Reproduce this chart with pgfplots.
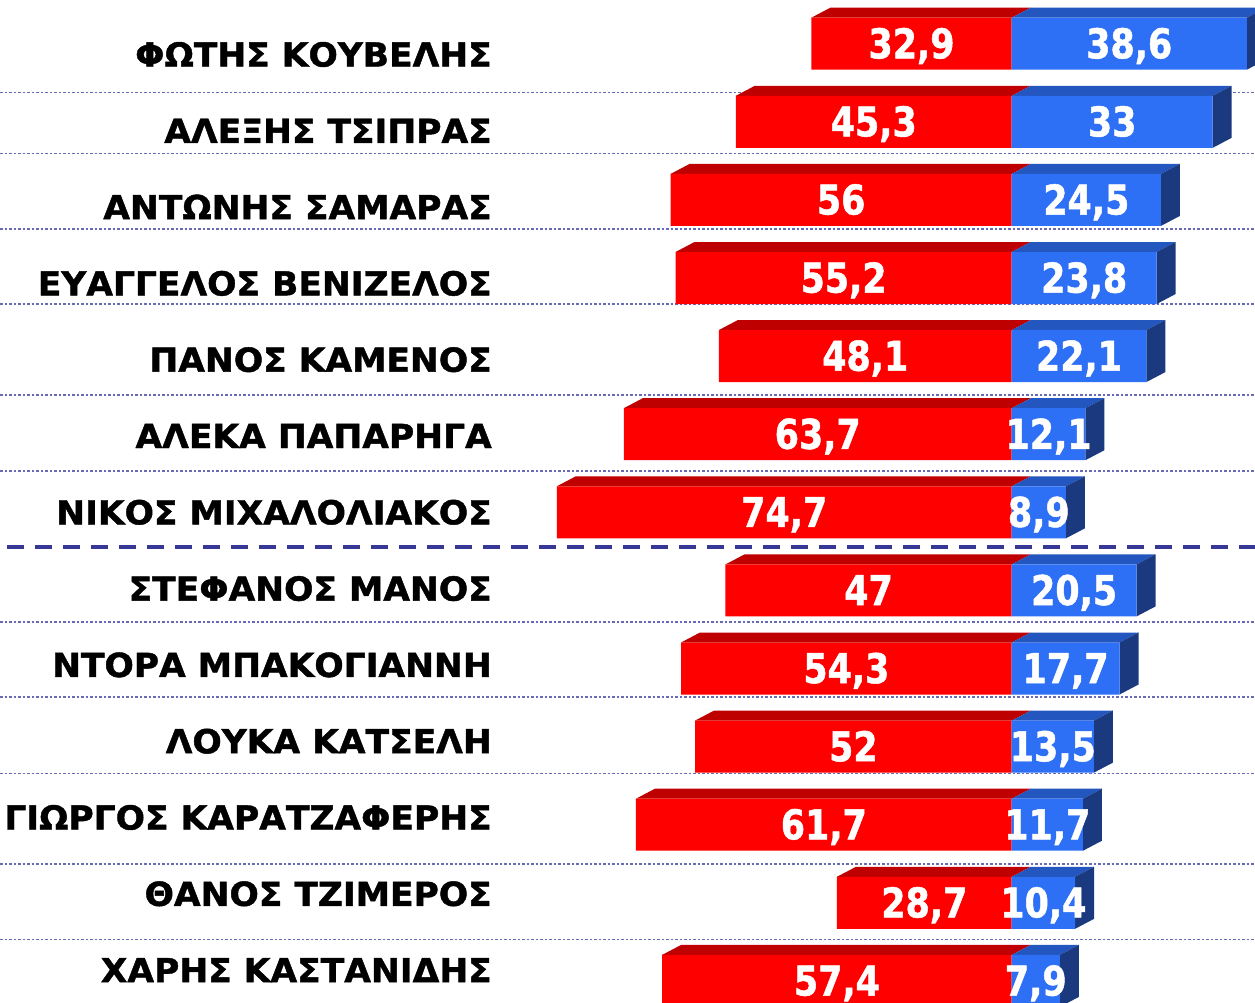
\documentclass[border=0pt]{standalone}
\usepackage{fontspec}
\usepackage{pgfplots}
\usepackage{pgfplotstable}
\pgfplotsset{compat=1.18}
\newfontfamily\nfont[FakeStretch=1.045,FakeBold=1.3]{DejaVu Sans}
\newfontfamily\vfont[FakeStretch=0.85,FakeBold=1.2]{DejaVu Sans}
\definecolor{redfront}{HTML}{FF0000}
\definecolor{redtop}{HTML}{BE0000}
\definecolor{bluefront}{HTML}{2D6FF5}
\definecolor{bluetop}{HTML}{2356BE}
\definecolor{blueside}{HTML}{1A397E}
\definecolor{gridc}{RGB}{105,105,185}
\definecolor{dashc}{RGB}{55,55,150}

\pgfplotstableread[col sep=semicolon]{
name;red;blue;rl;bl
ΦΩΤΗΣ ΚΟΥΒΕΛΗΣ;32.9;38.6;32,9;38,6
ΑΛΕΞΗΣ ΤΣΙΠΡΑΣ;45.3;33;45,3;33
ΑΝΤΩΝΗΣ ΣΑΜΑΡΑΣ;56;24.5;56;24,5
ΕΥΑΓΓΕΛΟΣ ΒΕΝΙΖΕΛΟΣ;55.2;23.8;55,2;23,8
ΠΑΝΟΣ ΚΑΜΕΝΟΣ;48.1;22.1;48,1;22,1
ΑΛΕΚΑ ΠΑΠΑΡΗΓΑ;63.7;12.1;63,7;12,1
ΝΙΚΟΣ ΜΙΧΑΛΟΛΙΑΚΟΣ;74.7;8.9;74,7;8,9
ΣΤΕΦΑΝΟΣ ΜΑΝΟΣ;47;20.5;47;20,5
ΝΤΟΡΑ ΜΠΑΚΟΓΙΑΝΝΗ;54.3;17.7;54,3;17,7
ΛΟΥΚΑ ΚΑΤΣΕΛΗ;52;13.5;52;13,5
ΓΙΩΡΓΟΣ ΚΑΡΑΤΖΑΦΕΡΗΣ;61.7;11.7;61,7;11,7
ΘΑΝΟΣ ΤΖΙΜΕΡΟΣ;28.7;10.4;28,7;10,4
ΧΑΡΗΣ ΚΑΣΤΑΝΙΔΗΣ;57.4;7.9;57,4;7,9
}\data

\def\dx{3.12}
\def\dy{0.128}
\def\hh{0.333}

\begin{document}
\begin{tikzpicture}
\begin{axis}[
  scale only axis,
  width=1255pt, height=1002pt,
  xmin=-166.12, xmax=39.95,
  ymin=-0.5595, ymax=12.27,
  y dir=reverse,
  axis line style={draw=none},
  major tick length=0pt,
  xtick=\empty,
  ytick={0.625,1.403,2.373,3.333,4.498,5.471,7.404,8.364,9.342,10.503,11.470},
  yticklabels={},
  ymajorgrids,
  grid style={gridc, line width=1.4pt, dash pattern=on 2.5pt off 2pt},
  extra y ticks={6.438},
  extra y tick labels={},
  extra y tick style={grid style={dashc, line width=4pt, dash pattern=on 17pt off 11pt, dash phase=21pt}},
  clip=true,
]
% 3D faces
\pgfplotsinvokeforeach{0,...,12}{%
  \pgfplotstablegetelem{#1}{red}\of\data \let\rv\pgfplotsretval
  \pgfplotstablegetelem{#1}{blue}\of\data \let\bv\pgfplotsretval
  \pgfmathsetmacro\yt{#1-\hh}%
  \pgfmathsetmacro\yb{#1+\hh}%
  \pgfmathsetmacro\ybk{#1-\hh-\dy}%
  \pgfmathsetmacro\ybb{#1+\hh-\dy}%
  \pgfmathsetmacro\xl{-\rv}%
  \pgfmathsetmacro\xlb{-\rv+\dx}%
  \pgfmathsetmacro\xr{\bv+\dx}%
  \edef\cmd{%
    \noexpand\fill[redtop] (axis cs:\xl,\yt) -- (axis cs:0,\yt) -- (axis cs:\dx,\ybk) -- (axis cs:\xlb,\ybk) -- cycle;
    \noexpand\fill[bluetop] (axis cs:0,\yt) -- (axis cs:\bv,\yt) -- (axis cs:\xr,\ybk) -- (axis cs:\dx,\ybk) -- cycle;
    \noexpand\fill[blueside] (axis cs:\bv,\yt) -- (axis cs:\bv,\yb) -- (axis cs:\xr,\ybb) -- (axis cs:\xr,\ybk) -- cycle;
  }\cmd
}
% front faces
\addplot[xbar, bar width=52pt, bar shift=0pt, fill=redfront, draw=none]
  table[x expr=-\thisrow{red}, y expr=\coordindex] {\data};
\addplot[xbar, bar width=52pt, bar shift=0pt, fill=bluefront, draw=none]
  table[x=blue, y expr=\coordindex] {\data};
% labels
\pgfplotsinvokeforeach{0,...,12}{%
  \pgfplotstablegetelem{#1}{red}\of\data \let\rv\pgfplotsretval
  \pgfplotstablegetelem{#1}{blue}\of\data \let\bv\pgfplotsretval
  \pgfplotstablegetelem{#1}{rl}\of\data \let\rlab\pgfplotsretval
  \pgfplotstablegetelem{#1}{bl}\of\data \let\blab\pgfplotsretval
  \pgfplotstablegetelem{#1}{name}\of\data \let\nm\pgfplotsretval
  \pgfmathsetmacro\rc{-\rv/2}%
  \pgfmathsetmacro\bc{\bv/2}%
  \pgfmathsetmacro\vy{#1+0.187}%
  \pgfmathsetmacro\ly{(22.8+76.3*#1)/78.1}%
  \edef\cmd{%
    \noexpand\node[text=white, anchor=base, inner sep=0pt, font=\noexpand\vfont\noexpand\bfseries\noexpand\fontsize{41}{41}\noexpand\selectfont] at (axis cs:\rc,\vy) {\rlab};
    \noexpand\node[text=white, anchor=base, inner sep=0pt, font=\noexpand\vfont\noexpand\bfseries\noexpand\fontsize{41}{41}\noexpand\selectfont] at (axis cs:\bc,\vy) {\blab};
    \noexpand\node[text=black, anchor=base east, inner sep=0pt, font=\noexpand\nfont\noexpand\bfseries\noexpand\fontsize{33}{33}\noexpand\selectfont] at (axis cs:-85.34,\ly) {\nm};
  }\cmd
}
\end{axis}
\pgfresetboundingbox
\path[use as bounding box] (current axis.south west) rectangle (current axis.north east);
\end{tikzpicture}
\end{document}
